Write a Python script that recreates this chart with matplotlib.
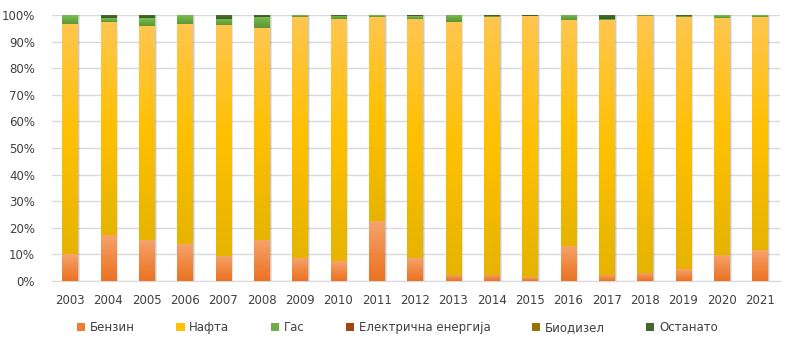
import numpy as np
import matplotlib
matplotlib.use('Agg')
from matplotlib import pyplot as plt
from matplotlib.colors import LinearSegmentedColormap
from matplotlib.ticker import PercentFormatter

years = ['2003', '2004', '2005', '2006', '2007', '2008', '2009', '2010', '2011', '2012',
         '2013', '2014', '2015', '2016', '2017', '2018', '2019', '2020', '2021']

# shares in percent, each year sums to 100
benzin = [10.0, 17.4, 15.5, 14.1, 9.4, 15.5, 8.8, 7.5, 22.6, 8.8,
          2.3, 2.3, 1.4, 13.3, 2.3, 3.1, 4.5, 9.8, 11.8]
nafta = [86.5, 79.8, 80.2, 82.4, 86.7, 79.4, 90.5, 91.0, 76.7, 89.7,
         94.9, 96.8, 98.2, 84.7, 95.9, 96.5, 94.8, 89.1, 87.5]
gas = [3.3, 1.5, 3.0, 3.3, 2.4, 4.3, 0.5, 1.2, 0.7, 1.0,
       2.8, 0.5, 0.0, 2.0, 0.2, 0.2, 0.4, 1.0, 0.5]
struja = [0.0] * len(years)
biodizel = [0.0] * len(years)
ostanato = [0.2, 1.3, 1.3, 0.2, 1.5, 0.8, 0.2, 0.3, 0.0, 0.5,
            0.0, 0.4, 0.4, 0.0, 1.6, 0.2, 0.3, 0.1, 0.2]

series = [
    ('Бензин', benzin, '#ED7D31', ['#F6A46E', '#F08A45', '#EC7222']),
    ('Нафта', nafta, '#FFC000', ['#FFC64F', '#FFC000', '#E6B400']),
    ('Гас', gas, '#70AD47', ['#7BBE52', '#6AAA42', '#5B9736']),
    ('Електрична енергија', struja, '#9E480E', ['#B0561A', '#9E480E', '#8A3D0A']),
    ('Биодизел', biodizel, '#997300', ['#A9800C', '#997300', '#876500']),
    ('Останато', ostanato, '#43682B', ['#4B7431', '#43682B', '#385923']),
]

plt.rcParams['font.family'] = ['DejaVu Sans']
fig = plt.figure(figsize=(7.95, 3.47), dpi=100)
ax = fig.add_axes([0.065, 0.19, 0.916, 0.767])

x = np.arange(len(years))
width = 0.4
grad = np.linspace(1, 0, 128).reshape(-1, 1)

# soft shadow to the right of every column
ax.bar(x + 0.06, [100] * len(x), width, color='#9A9A9A', alpha=0.25, zorder=1, linewidth=0)
ax.bar(x + 0.035, [100] * len(x), width, color='#8C8C8C', alpha=0.3, zorder=1, linewidth=0)

bottom = np.zeros(len(years))
for name, vals, base, stops in series:
    vals = np.array(vals)
    bars = ax.bar(x, vals, width, bottom=bottom, color=base, label=name, zorder=2, linewidth=0)
    cmap = LinearSegmentedColormap.from_list(name, stops[::-1])
    for rect in bars:
        h = rect.get_height()
        if h <= 0:
            continue
        x0 = rect.get_x()
        y0 = rect.get_y()
        ax.imshow(grad, cmap=cmap, vmin=0, vmax=1, aspect='auto', interpolation='bilinear',
                  extent=[x0, x0 + rect.get_width(), y0, y0 + h], zorder=3)
    bottom += vals

ax.set_xlim(-0.48, len(years) - 0.48)
ax.set_ylim(0, 100)
ax.set_xticks(x)
ax.set_xticklabels(years)
ax.set_yticks(np.arange(0, 101, 10))
ax.yaxis.set_major_formatter(PercentFormatter(decimals=0))
ax.tick_params(length=0, labelsize=8.5, labelcolor='#404040')
ax.tick_params(axis='x', pad=9)
ax.tick_params(axis='y', pad=12)
ax.grid(axis='y', color='#D9D9D9', linewidth=1, zorder=0)
ax.set_axisbelow(True)
for s in ['top', 'right', 'left']:
    ax.spines[s].set_visible(False)
ax.spines['bottom'].set_color('#D9D9D9')

handles, labels = ax.get_legend_handles_labels()
fig.legend(handles, labels, loc='center', bbox_to_anchor=(0.5, 0.055), ncol=6, frameon=False,
           fontsize=8.5, labelcolor='#404040', handlelength=0.7, handleheight=0.7,
           handletextpad=0.4, columnspacing=3.5)

fig.savefig('out.png', dpi=100)
